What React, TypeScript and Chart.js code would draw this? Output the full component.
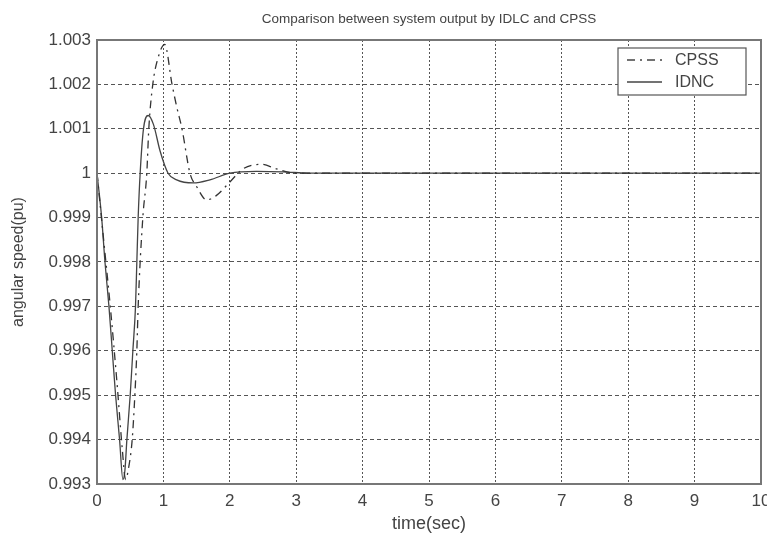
import React, { useEffect, useRef } from "react";
import { Chart, registerables } from "chart.js";

Chart.register(...registerables);

const titleText = "Comparison between system output by IDLC and CPSS";
const xLabel = "time(sec)";
const yLabel = "angular speed(pu)";
const seriesNames = ["CPSS", "IDNC"];

const cpssTime = [0, 0.1, 0.2, 0.3, 0.38, 0.43, 0.48, 0.53, 0.57, 0.6, 0.62, 0.69, 0.75, 0.78, 0.84, 0.92, 1.02, 1.13, 1.2, 1.28, 1.4, 1.5, 1.65, 1.8, 2.0, 2.2, 2.48, 2.7, 3.0, 3.4, 4, 10];
const cpssValue = [1.0, 0.9985, 0.997, 0.9953, 0.9938, 0.9931, 0.9934, 0.994, 0.995, 0.996, 0.997, 0.999, 1.0, 1.001, 1.002, 1.0026, 1.0029, 1.002, 1.0015, 1.001, 1.0, 0.9997, 0.9994, 0.9995, 0.9998, 1.0001, 1.0002, 1.0001, 1.0, 1.0, 1.0, 1.0];

const idncTime = [0, 0.07, 0.12, 0.18, 0.23, 0.28, 0.34, 0.39, 0.42, 0.45, 0.5, 0.54, 0.58, 0.6, 0.62, 0.65, 0.7, 0.77, 0.85, 0.95, 1.07, 1.2, 1.45, 1.7, 2.0, 2.4, 2.8, 3.2, 4, 10];
const idncValue = [1.0, 0.999, 0.998, 0.997, 0.996, 0.995, 0.994, 0.9931, 0.9933, 0.994, 0.995, 0.996, 0.997, 0.998, 0.999, 1.0, 1.001, 1.0013, 1.0011, 1.0005, 1.0, 0.99985, 0.99978, 0.99985, 1.0, 1.00004, 1.00003, 1.0, 1.0, 1.0];

const xTicksMin = 0;
const xTicksMax = 10;
const yTicksMin = 0.993;
const yTicksMax = 1.003;

const FONT = "'Liberation Sans', Arial, sans-serif";
const TEXT = "#444";

const frameAndLegend = {
  id: "frameAndLegend",
  afterDatasetsDraw(chart: any) {
    const { ctx, chartArea } = chart;
    const { left, top, right, bottom } = chartArea;
    ctx.save();
    // title centred over the plot area
    ctx.fillStyle = TEXT;
    ctx.font = `13.5px ${FONT}`;
    ctx.textAlign = "center";
    ctx.textBaseline = "middle";
    ctx.fillText(titleText, (left + right) / 2, 19.5);
    // frame
    ctx.strokeStyle = "#777";
    ctx.lineWidth = 2;
    ctx.setLineDash([]);
    ctx.strokeRect(left, top, right - left, bottom - top);
    // legend
    const bx = right - 143, by = top + 8, bw = 128, bh = 47;
    ctx.fillStyle = "#fff";
    ctx.fillRect(bx, by, bw, bh);
    ctx.strokeStyle = "#555";
    ctx.lineWidth = 1.2;
    ctx.strokeRect(bx, by, bw, bh);
    const rows = [
      { name: seriesNames[0], dash: [8, 5, 2, 5], y: by + 12 },
      { name: seriesNames[1], dash: [], y: by + 34 },
    ];
    rows.forEach((r) => {
      ctx.strokeStyle = "#444";
      ctx.lineWidth = 1.3;
      ctx.setLineDash(r.dash);
      ctx.beginPath();
      ctx.moveTo(bx + 9, r.y);
      ctx.lineTo(bx + 44, r.y);
      ctx.stroke();
      ctx.setLineDash([]);
      ctx.fillStyle = TEXT;
      ctx.font = `16px ${FONT}`;
      ctx.textBaseline = "middle";
      ctx.textAlign = "left";
      ctx.fillText(r.name, bx + 57, r.y + 1);
    });
    ctx.restore();
  },
};

export default function App() {
  const ref = useRef<HTMLCanvasElement | null>(null);
  useEffect(() => {
    document.body.style.margin = "0";
    const canvas = ref.current;
    if (!canvas) return;
    const chart = new Chart(canvas, {
      type: "line",
      data: {
        datasets: [
          {
            label: seriesNames[0],
            data: cpssTime.map((t, i) => ({ x: t, y: cpssValue[i] })),
            borderColor: "#333",
            borderWidth: 1.3,
            borderDash: [8, 5, 2, 5],
            pointRadius: 0,
            cubicInterpolationMode: "monotone",
            fill: false,
          },
          {
            label: seriesNames[1],
            data: idncTime.map((t, i) => ({ x: t, y: idncValue[i] })),
            borderColor: "#444",
            borderWidth: 1.3,
            pointRadius: 0,
            cubicInterpolationMode: "monotone",
            fill: false,
          },
        ],
      },
      options: {
        animation: false,
        responsive: false,
        maintainAspectRatio: false,
        layout: { padding: { left: 0, right: 6, top: 40, bottom: 0 } },
        plugins: {
          legend: { display: false },
          tooltip: { enabled: false },
          title: { display: false },
        },
        scales: {
          x: {
            type: "linear",
            min: xTicksMin,
            max: xTicksMax,
            afterFit(scale: any) {
              scale.height = 55;
              scale.paddingRight = 0;
              scale.paddingLeft = 0;
            },
            ticks: {
              stepSize: 1,
              color: TEXT,
              font: { family: FONT, size: 17 },
              padding: 7,
              maxRotation: 0,
            },
            grid: {
              color: "#555",
              lineWidth: 1,
              drawTicks: false,
            },
            border: { display: false, dash: [2, 2] },
            title: {
              display: true,
              text: xLabel,
              color: TEXT,
              font: { family: FONT, size: 18 },
              padding: { top: 0, bottom: 4 },
            },
          },
          y: {
            type: "linear",
            min: yTicksMin,
            max: yTicksMax,
            afterFit(scale: any) {
              scale.width = 97;
            },
            ticks: {
              stepSize: 0.001,
              color: TEXT,
              font: { family: FONT, size: 17 },
              padding: 6,
              callback: (v: any) => {
                const s = Number(v).toFixed(3);
                return s === "1.000" ? "1" : s;
              },
            },
            grid: {
              color: "#555",
              lineWidth: 1,
              drawTicks: false,
            },
            border: { display: false, dash: [4, 3] },
            title: {
              display: true,
              text: yLabel,
              color: TEXT,
              font: { family: FONT, size: 16 },
              padding: { top: 9, bottom: 0 },
            },
          },
        },
      } as any,
      plugins: [frameAndLegend],
    });
    return () => chart.destroy();
  }, []);
  return (
    <div style={{ width: 767, height: 539, position: "relative", background: "#fff" }}>
      <canvas ref={ref} width={767} height={539} style={{ display: "block" }} />
    </div>
  );
}
